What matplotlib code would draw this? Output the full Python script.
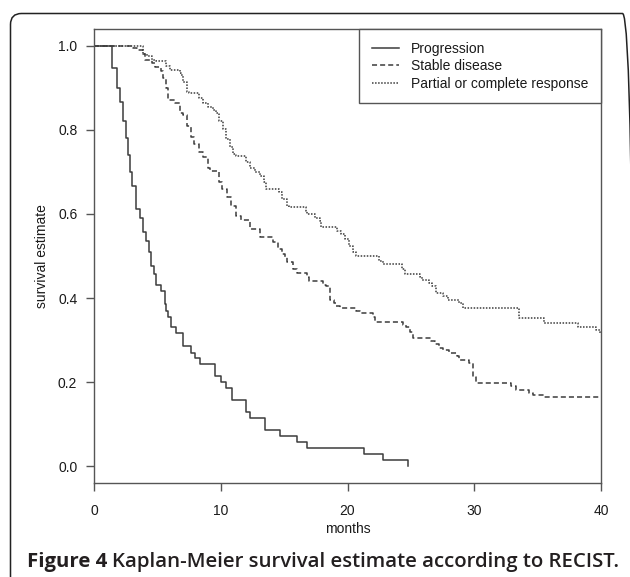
import matplotlib
matplotlib.use("Agg")
import matplotlib.pyplot as plt
from matplotlib.patches import FancyBboxPatch
from matplotlib.transforms import IdentityTransform

# Kaplan-Meier curves: time (months) -> survival after the step
prog_t = [0, 1.42, 1.80, 2.05, 2.29, 2.50, 2.70, 2.85, 3.02, 3.34, 3.60, 3.86,
          4.10, 4.30, 4.50, 4.70, 4.92, 5.31, 5.57, 5.70, 5.85, 6.10, 6.49,
          7.00, 7.65, 8.00, 8.33, 9.57, 10.04, 10.43, 10.88, 12.00, 12.30,
          13.50, 14.70, 16.00, 16.80, 21.30, 22.80, 24.80]
prog_s = [1.0, 0.947, 0.90, 0.867, 0.82, 0.78, 0.74, 0.70, 0.667, 0.612, 0.59,
          0.556, 0.535, 0.51, 0.476, 0.456, 0.43, 0.416, 0.385, 0.37, 0.356,
          0.33, 0.316, 0.287, 0.27, 0.257, 0.243, 0.215, 0.20, 0.186, 0.157,
          0.129, 0.114, 0.086, 0.071, 0.057, 0.043, 0.029, 0.014, 0.0]

stable_t = [0, 3.07, 3.40, 3.85, 4.00, 4.60, 4.85, 5.30, 5.45, 5.65, 5.80,
            6.40, 6.75, 7.00, 7.30, 7.65, 7.90, 8.30, 8.60, 9.00, 9.15, 9.90,
            10.10, 10.50, 10.80, 11.20, 11.60, 12.30, 13.10, 14.10, 14.50,
            14.80, 15.10, 15.20, 15.70, 16.00, 16.80, 17.00, 18.10, 18.30,
            18.60, 18.90, 19.10, 19.40, 20.70, 21.00, 22.00, 22.20, 24.40,
            24.60, 24.90, 25.20, 26.60, 26.90, 27.20, 27.50, 28.00, 28.60,
            28.80, 29.60, 29.90, 30.10, 30.20, 32.90, 33.30, 34.30, 34.60,
            35.50, 40.0]
stable_s = [1.0, 0.995, 0.99, 0.98, 0.967, 0.958, 0.95, 0.94, 0.923, 0.90,
            0.87, 0.863, 0.84, 0.835, 0.81, 0.784, 0.767, 0.748, 0.736, 0.71,
            0.703, 0.676, 0.66, 0.64, 0.62, 0.596, 0.585, 0.564, 0.545, 0.533,
            0.516, 0.505, 0.497, 0.485, 0.468, 0.46, 0.45, 0.44, 0.432, 0.428,
            0.396, 0.389, 0.38, 0.377, 0.368, 0.365, 0.356, 0.344, 0.336,
            0.332, 0.32, 0.305, 0.297, 0.29, 0.282, 0.277, 0.27, 0.261, 0.253,
            0.246, 0.213, 0.20, 0.198, 0.19, 0.181, 0.174, 0.169, 0.165, 0.165]

resp_t = [0, 3.86, 4.20, 4.60, 4.90, 5.70, 6.00, 6.75, 6.90, 7.00, 7.30, 7.50,
          8.30, 8.60, 9.00, 9.40, 9.65, 9.90, 10.20, 10.40, 10.70, 11.00,
          11.20, 12.00, 12.30, 12.70, 13.10, 13.40, 13.60, 14.60, 14.80,
          15.20, 15.40, 16.70, 16.80, 17.40, 17.80, 17.90, 19.20, 19.50,
          19.80, 20.10, 20.40, 20.70, 22.50, 22.80, 24.30, 24.50, 25.70,
          25.90, 26.40, 26.70, 27.00, 27.50, 27.90, 28.80, 29.10, 33.50,
          35.50, 38.20, 39.60, 39.95]
resp_s = [1.0, 0.98, 0.975, 0.967, 0.963, 0.951, 0.943, 0.935, 0.93, 0.915,
          0.89, 0.887, 0.875, 0.863, 0.855, 0.847, 0.839, 0.82, 0.803, 0.779,
          0.76, 0.743, 0.739, 0.723, 0.71, 0.70, 0.691, 0.675, 0.66, 0.652,
          0.635, 0.62, 0.616, 0.608, 0.60, 0.59, 0.584, 0.569, 0.56, 0.552,
          0.54, 0.524, 0.509, 0.50, 0.488, 0.48, 0.468, 0.456, 0.449, 0.444,
          0.435, 0.428, 0.412, 0.404, 0.396, 0.388, 0.376, 0.353, 0.341, 0.33,
          0.325, 0.317]

labels = ["Progression", "Stable disease", "Partial or complete response"]
x_ticks = [0, 10, 20, 30, 40]
y_ticks = [0.0, 0.2, 0.4, 0.6, 0.8, 1.0]

plt.rcParams['font.family'] = ['Liberation Sans', 'DejaVu Sans']
ink = '#3c3c3c'
axis_col = '#555555'

fig = plt.figure(figsize=(6.3, 5.77), dpi=100)
ax = fig.add_axes([94 / 630, 1 - 483 / 577, 507 / 630, 454 / 577])

ax.step(prog_t, prog_s, where='post', color=ink, lw=1.1, label=labels[0])
ax.step(stable_t, stable_s, where='post', color=ink, lw=1.1,
        linestyle=(0, (3.3, 2.0)), label=labels[1])
ax.step(resp_t, resp_s, where='post', color=ink, lw=1.1,
        linestyle=(0, (1.0, 1.0)), label=labels[2])

ax.set_xlim(0, 40)
ax.set_ylim(-0.04, 1.04)
ax.set_xticks(x_ticks)
ax.set_xticklabels([str(v) for v in x_ticks])
ax.set_yticks(y_ticks)
ax.set_yticklabels([f'{v:.1f}' for v in y_ticks])
ax.tick_params(direction='out', length=6, width=1, color=axis_col,
               labelsize=10, labelcolor='#1a1a1a')
ax.tick_params(axis='x', pad=9)
ax.tick_params(axis='y', pad=6)
for sp in ax.spines.values():
    sp.set_color(axis_col)
    sp.set_linewidth(1.0)

fig.text(42 / 630, 1 - 256 / 577, 'survival estimate', rotation=90,
         ha='center', va='center', fontsize=10, color='#1a1a1a')
fig.text(347.5 / 630, 1 - 529 / 577, 'months', ha='center', va='center',
         fontsize=10, color='#1a1a1a')

leg = ax.legend(loc='upper right', borderaxespad=0, fontsize=10,
                fancybox=False, framealpha=1, handlelength=2.0,
                handletextpad=0.85, labelspacing=0.26, borderpad=0.9)
leg.get_frame().set_edgecolor(axis_col)
leg.get_frame().set_linewidth(1.0)
for t in leg.get_texts():
    t.set_color('#1a1a1a')

# rounded frame around the panel (right side runs just off the picture)
frame = FancyBboxPatch((10.5, -30), 623, 577 - 13.5 + 30,
                       boxstyle='round,pad=0,rounding_size=11',
                       transform=IdentityTransform(), fill=False,
                       edgecolor='#222222', linewidth=1.1, clip_on=False)
fig.add_artist(frame)

# caption: bold "Figure 4" followed by regular text
cap_y = 1 - 567 / 577
t1 = fig.text(27 / 630, cap_y, 'Figure 4', fontsize=14.7, fontweight='bold',
              family=['Open Sans', 'DejaVu Sans'], color='#231f20',
              va='baseline')
fig.canvas.draw()
bb = t1.get_window_extent()
fig.text(bb.x1 / 630 + 5 / 630, cap_y,
         'Kaplan-Meier survival estimate according to RECIST.',
         fontsize=14.7, fontweight='semibold',
         family=['Open Sans', 'DejaVu Sans'], color='#231f20', va='baseline')

fig.savefig('out.png', dpi=100)
